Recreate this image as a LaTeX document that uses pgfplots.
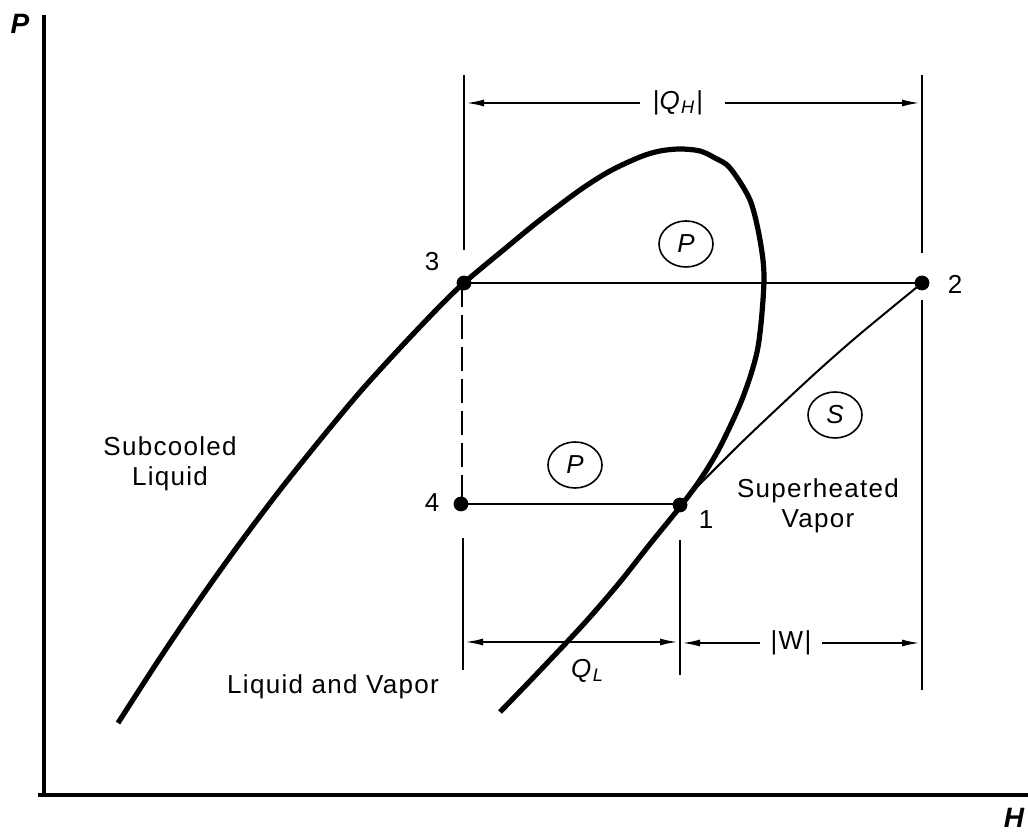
\documentclass[border=0pt]{standalone}
\usepackage{fontspec}
\setmainfont[LetterSpace=5]{Liberation Sans}
\usepackage{pgfplots}
\pgfplotsset{compat=1.18}
\usetikzlibrary{arrows.meta,shapes.geometric}

\tikzset{
  ln/.style={line width=1pt, black},
  arr/.style={line width=1pt, black, -{Latex[length=9pt,width=3.5pt]}},
  lbl/.style={font=\fontsize{13}{15}\selectfont},
  ring/.style={draw, ellipse, line width=0.8pt, minimum width=27pt,
    minimum height=23pt, inner sep=0pt, font=\fontsize{13}{15}\selectfont\itshape},
}

\begin{document}
\begin{tikzpicture}
\begin{axis}[
  scale only axis, width=514pt, height=417pt,
  xmin=0, xmax=1028, ymin=0, ymax=834,
  hide axis, clip=false,
]
% axes
\addplot[line width=2pt] coordinates {(44,819)(44,39)};
\addplot[line width=2pt] coordinates {(38,39)(1028,39)};

% saturation dome
\addplot[line width=2.6pt, smooth, tension=0.5] coordinates {
  (118,111)(160,176)(200,235)(240,291)(280,344)(320,394)(360,442)(400,486)
  (440,528)(465,552)(507,587)(540,614)(580,644)(610,663)(640,677)(660,683)
  (680,685)(700,683)(715,676)(730,666)(750,634)(760,594)(764,554)
  (758,487)(743,437)(720,387)(700,354)(680,327)(650,290)(620,252)(590,217)
  (567,192)(530,153)(500,122)};

% cycle
\addplot[ln] coordinates {(463,551)(922,551)};
\addplot[ln] coordinates {(461,330)(680,330)};
\addplot[ln, dash pattern=on 12pt off 4pt] coordinates {(462,551)(462,330)};
\addplot[ln, smooth] coordinates {(680,329)(700,350)(740,390)(780,428)(820,465)(860,500)(922,551)};
\addplot[only marks, mark=*, mark size=3.5pt, black] coordinates {(464,551)(922,551)(461,330)(680,329)};

% extension lines
\addplot[ln] coordinates {(464,759)(464,584)};
\addplot[ln] coordinates {(922,759)(922,581)};
\addplot[ln] coordinates {(922,534)(922,144)};
\addplot[ln] coordinates {(463,296)(463,164)};
\addplot[ln] coordinates {(680,294)(680,159)};

% heat and work arrows
\addplot[arr] coordinates {(640,731)(466,731)};
\addplot[arr] coordinates {(725,731)(920,731)};
\addplot[ln, {Latex[length=9pt,width=3.5pt]}-{Latex[length=9pt,width=3.5pt]}] coordinates {(465,192)(678,192)};
\addplot[arr] coordinates {(760,191)(682,191)};
\addplot[arr] coordinates {(822,191)(920,191)};

\node[lbl] at (axis cs:678,731) {|\textit{Q}\textsubscript{\textit{H}}|};
\node[lbl] at (axis cs:588,163) {\textit{Q}\textsubscript{\textit{L}}};
\node[lbl] at (axis cs:791,191) {|W|};

% circled process labels
\node[ring] at (axis cs:686,590) {P};
\node[ring] at (axis cs:575,369) {P};
\node[ring] at (axis cs:835,419) {S};

% state numbers
\node[lbl] at (axis cs:432,572) {3};
\node[lbl] at (axis cs:955,550) {2};
\node[lbl] at (axis cs:432,331) {4};
\node[lbl] at (axis cs:706,314) {1};

% regions
\node[lbl, align=center] at (axis cs:170,370) {Subcooled\\Liquid};
\node[lbl, align=center] at (axis cs:818,328) {Superheated\\Vapor};
\node[lbl] at (axis cs:333,147) {Liquid and Vapor};

% axis names
\node[font=\fontsize{14}{16}\selectfont\bfseries\itshape] at (axis cs:20,810) {P};
\node[font=\fontsize{14}{16}\selectfont\bfseries\itshape] at (axis cs:1014,16) {H};

\coordinate (bl) at (axis cs:0,0);
\coordinate (tr) at (axis cs:1028,834);
\end{axis}
\pgfresetboundingbox
\path[use as bounding box] (bl) rectangle (tr);
\end{tikzpicture}
\end{document}
